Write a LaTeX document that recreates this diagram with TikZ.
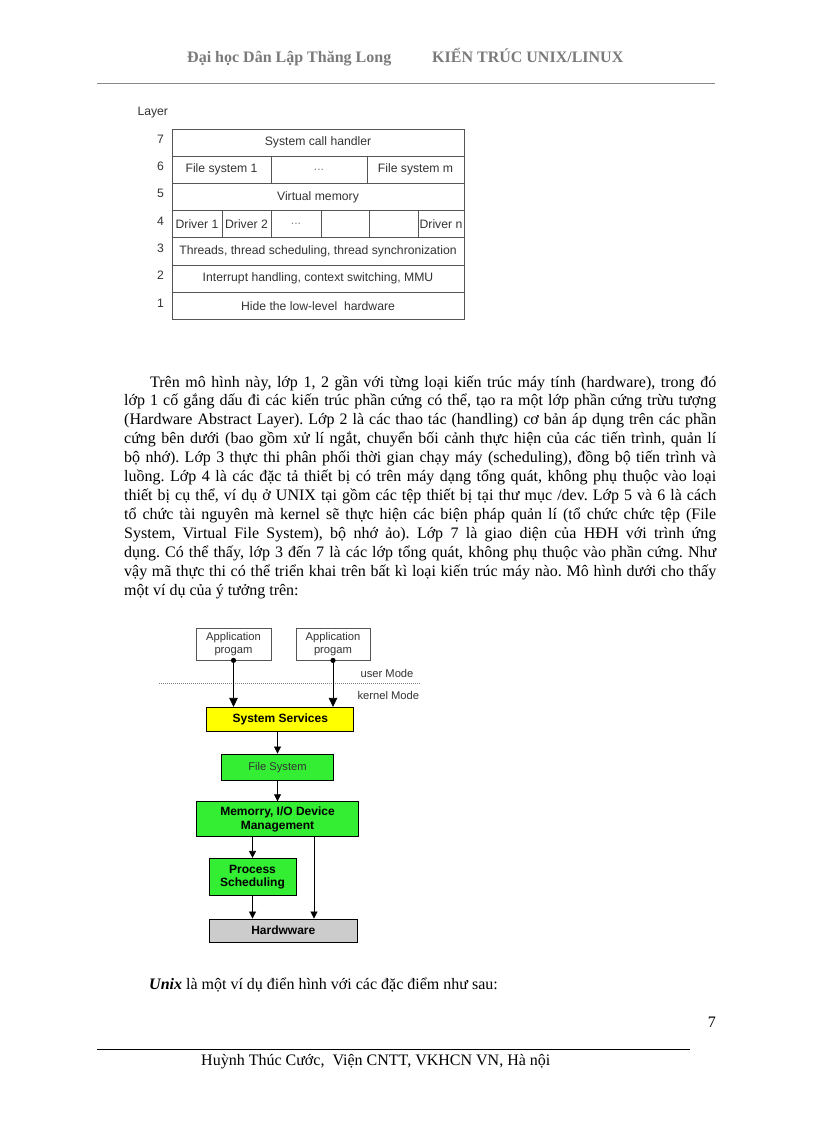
\documentclass[tikz,border=0pt]{standalone}
\usepackage{fontspec}
\setmainfont{Liberation Serif}
\newfontfamily\arialfont{Liberation Sans}
\usepackage{xcolor}
\usetikzlibrary{arrows.meta}
\tikzset{>=Stealth}
\frenchspacing
\definecolor{HeadGray}{HTML}{7A7A7A}
\definecolor{RuleGray}{HTML}{8A8A8A}
\definecolor{CellLine}{HTML}{555555}
\definecolor{CellText}{HTML}{333333}
\definecolor{SysYellow}{HTML}{FFFF00}
\definecolor{KernGreen}{HTML}{33EE33}
\definecolor{HwGray}{HTML}{CCCCCC}
\newcommand{\bodyfont}{\fontsize{16}{19}\selectfont}
\newcommand{\headfont}{\fontsize{16}{19}\selectfont\bfseries}
\newcommand{\cellfont}{\arialfont\fontsize{12.2}{14}\selectfont}
\newcommand{\boxfont}{\arialfont\fontsize{11.2}{12.6}\selectfont}
\newcommand{\kboxfont}{\arialfont\fontsize{12}{13.5}\selectfont\bfseries}
\newcommand{\jline}[1]{\makebox[592pt][s]{#1}}

\begin{document}
\begin{tikzpicture}[x=1pt, y=-1pt,
  cell/.style={draw=CellLine, line width=0.8pt, minimum height=27.2pt, inner sep=0pt, font=\cellfont, text=CellText},
  numlbl/.style={font=\cellfont, text=CellText},
  txtline/.style={anchor=base west, inner sep=0pt, font=\bodyfont},
  appbox/.style={draw=CellLine, line width=0.8pt, inner sep=0pt, font=\boxfont, text=CellText, align=center, minimum height=32pt},
  kbox/.style={draw=black, line width=0.8pt, inner sep=0pt, font=\kboxfont, align=center},
  modelbl/.style={anchor=west, font=\boxfont, text=CellText},
  flow/.style={-{Triangle[width=7pt, length=7pt]}, line width=0.8pt}]
  \useasboundingbox[fill=white] (0, 0) rectangle (816, 1123);

  %% Header
  \node[txtline, font=\headfont, text=HeadGray] (uni) at (187, 63) {Đại học Dân Lập Thăng Long};
  \node[txtline, font=\headfont, text=HeadGray] (title) at (432, 63) {KIẾN TRÚC UNIX/LINUX};
  \draw[RuleGray, line width=0.8pt] (97, 83) -- (715, 83);

  %% Layer table
  \node[numlbl, anchor=west] (layer) at (134, 113) {Layer};
  \foreach \n/\y in {7/139, 6/166, 5/193, 4/221, 3/248, 2/275, 1/303}
    \node[numlbl] (n\n) at (160.5, \y) {\n};

  \node[cell, minimum width=292pt] (r7) at (318, 142.6) {System call handler};
  \node[cell, minimum width=99pt] (r6a) at (221.5, 169.8) {File system 1};
  \node[cell, minimum width=96pt] (r6b) at (319, 169.8) {\textcolor{gray}{...}};
  \node[cell, minimum width=97pt] (r6c) at (415.5, 169.8) {File system m};
  \node[cell, minimum width=292pt] (r5) at (318, 197) {Virtual memory};
  \node[cell, minimum width=50pt] (r4a) at (197, 224.2) {Driver 1};
  \node[cell, minimum width=49pt] (r4b) at (246.5, 224.2) {Driver 2};
  \node[cell, minimum width=50pt] (r4c) at (296, 224.2) {\textcolor{gray}{...}};
  \node[cell, minimum width=48pt] (r4d) at (345, 224.2) {};
  \node[cell, minimum width=49pt] (r4e) at (393.5, 224.2) {};
  \node[cell, minimum width=46pt] (r4f) at (441, 224.2) {Driver n};
  \node[cell, minimum width=292pt] (r3) at (318, 251.4) {Threads, thread scheduling, thread synchronization};
  \node[cell, minimum width=292pt] (r2) at (318, 278.6) {Interrupt handling, context switching, MMU};
  \node[cell, minimum width=292pt] (r1) at (318, 305.8) {Hide the low-level\ \ hardware};

  %% Paragraph
  \node[txtline] (l1) at (150, 387) {\makebox[566pt][s]{Trên mô hình này, lớp 1, 2 gần với từng loại kiến trúc máy tính (hardware), trong đó}};
  \node[txtline] (l2) at (124, 405.9) {\jline{lớp 1 cố gắng dấu đi các kiến trúc phần cứng có thể, tạo ra một lớp phần cứng trừu tượng}};
  \node[txtline] (l3) at (124, 424.9) {\jline{(Hardware Abstract Layer). Lớp 2 là các thao tác (handling) cơ bản áp dụng trên các phần}};
  \node[txtline] (l4) at (124, 443.8) {\jline{cứng bên dưới (bao gồm xử lí ngắt, chuyển bối cảnh thực hiện của các tiến trình, quản lí}};
  \node[txtline] (l5) at (124, 462.7) {\jline{bộ nhớ). Lớp 3 thực thi phân phối thời gian chạy máy (scheduling), đồng bộ tiến trình và}};
  \node[txtline] (l6) at (124, 481.7) {\jline{luồng. Lớp 4 là các đặc tả thiết bị có trên máy dạng tổng quát, không phụ thuộc vào loại}};
  \node[txtline] (l7) at (124, 500.6) {\jline{thiết bị cụ thể, ví dụ ở UNIX tại gồm các tệp thiết bị tại thư mục /dev. Lớp 5 và 6 là cách}};
  \node[txtline] (l8) at (124, 519.5) {\jline{tổ chức tài nguyên mà kernel sẽ thực hiện các biện pháp quản lí (tổ chức chức tệp (File}};
  \node[txtline] (l9) at (124, 538.4) {\jline{System, Virtual File System), bộ nhớ ảo). Lớp 7 là giao diện của HĐH với trình ứng}};
  \node[txtline] (l10) at (124, 557.4) {\jline{dụng. Có thể thấy, lớp 3 đến 7 là các lớp tổng quát, không phụ thuộc vào phần cứng. Như}};
  \node[txtline] (l11) at (124, 576.3) {\jline{vậy mã thực thi có thể triển khai trên bất kì loại kiến trúc máy nào. Mô hình dưới cho thấy}};
  \node[txtline] (l12) at (124, 595.2) {một ví dụ của ý tưởng trên:};

  %% User / kernel split
  \node[appbox, minimum width=75pt] (app1) at (233.5, 644) {Application\\progam};
  \node[appbox, minimum width=74pt] (app2) at (333, 644) {Application\\progam};
  \draw[gray, line width=0.9pt, dash pattern=on 1pt off 1pt] (159, 683.3) -- (420, 683.3);
  \node[modelbl] (umode) at (357, 673) {user Mode};
  \node[modelbl] (kmode) at (354, 695) {kernel Mode};

  %% Kernel blocks
  \node[kbox, fill=SysYellow, minimum width=147pt, minimum height=24.4pt] (sys) at (280.3, 719.5) {System Services};
  \node[kbox, fill=KernGreen, minimum width=111.6pt, minimum height=26.7pt, font=\boxfont, text=CellText] (fs) at (277.5, 767.3) {File System};
  \node[kbox, fill=KernGreen, minimum width=161.6pt, minimum height=35pt] (mem) at (277.5, 819.2) {Memorry, I/O Device\\Management};
  \node[kbox, fill=KernGreen, minimum width=87pt, minimum height=37.4pt] (proc) at (252.5, 877) {Process\\Scheduling};
  \node[kbox, fill=HwGray, minimum width=148.7pt, minimum height=23.3pt] (hw) at (283.3, 930.6) {Hardwware};
  \coordinate (memr) at (314, 836.7);

  \fill (app1.south) circle (2.6pt);
  \fill (app2.south) circle (2.6pt);
  \draw[flow, -{Triangle[width=8.5pt, length=9pt]}] (app1.south) -- (app1.south |- sys.north);
  \draw[flow, -{Triangle[width=8.5pt, length=9pt]}] (app2.south) -- (app2.south |- sys.north);
  \draw[flow] (fs.north |- sys.south) -- (fs.north);
  \draw[flow] (fs.south) -- (fs.south |- mem.north);
  \draw[flow] (proc.north |- mem.south) -- (proc.north);
  \draw[flow] (memr) -- (memr |- hw.north);
  \draw[flow] (proc.south) -- (proc.south |- hw.north);

  %% Closing line and footer
  \node[txtline] (unix) at (149, 989) {\textbf{\textit{Unix}} là một ví dụ điển hình với các đặc điểm như sau:};
  \node[anchor=base east, inner sep=0pt, font=\bodyfont] (page) at (716, 1027) {7};
  \draw[black, line width=0.6pt] (97, 1049) -- (690, 1049);
  \node[txtline] (author) at (201, 1065) {Huỳnh Thúc Cước,\ \ Viện CNTT, VKHCN VN, Hà nội};
\end{tikzpicture}
\end{document}
